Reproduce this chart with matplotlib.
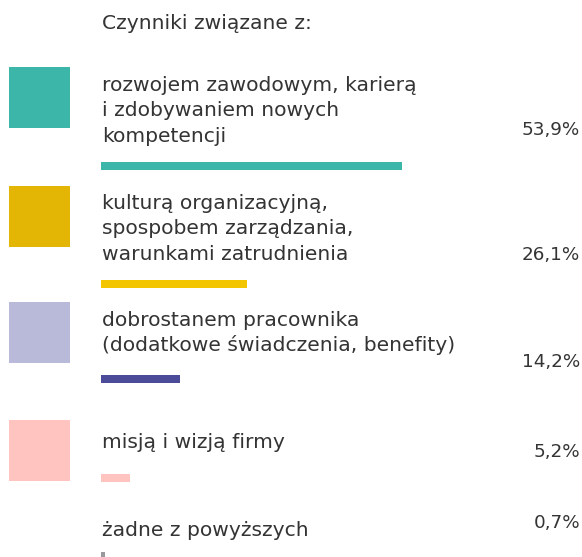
import matplotlib
matplotlib.use("Agg")
import matplotlib.pyplot as plt
import numpy as np

# data
title = "Czynniki związane z:"
labels = [
    "rozwojem zawodowym, karierą\ni zdobywaniem nowych\nkompetencji",
    "kulturą organizacyjną,\nspospobem zarządzania,\nwarunkami zatrudnienia",
    "dobrostanem pracownika\n(dodatkowe świadczenia, benefity)",
    "misją i wizją firmy",
    "żadne z powyższych",
]
values = [53.9, 26.1, 14.2, 5.2, 0.7]
value_labels = ["53,9%", "26,1%", "14,2%", "5,2%", "0,7%"]
square_colors = ["#3BB6A9", "#E3B505", "#B9B9D9", "#FFC4C0", None]
bar_colors = ["#3BB6A9", "#F2C500", "#4B4B9A", "#FFC4C0", "#9A9A9E"]

# layout (pixels, y from top)
W, H = 582, 557
TEXT_COLOR = "#343434"
FONT = ["DejaVu Sans"]
FS = 14.6
FS_VAL = 13.2
LINE = 25.3
PX_PER_PCT = 5.59
BAR_X0 = 101
TEXT_X0 = 102
label_base = [91, 209, 326, 448, 536]
value_base = [135, 260, 367, 457, 528]
square_top = [67, 186, 302, 420]
bar_top = [162, 280, 375, 474, 552]

fig = plt.figure(figsize=(W / 100, H / 100), dpi=100)
ax = fig.add_axes([0, 0, 1, 1])
ax.set_xlim(0, W)
ax.set_ylim(H, 0)
ax.axis("off")

ax.text(TEXT_X0, 29, title, fontsize=FS, family=FONT, color=TEXT_COLOR,
        va="baseline", ha="left")

for i, lab in enumerate(labels):
    for j, line in enumerate(lab.split("\n")):
        ax.text(TEXT_X0, label_base[i] + j * LINE, line, fontsize=FS,
                family=FONT, color=TEXT_COLOR, va="baseline", ha="left")
    ax.text(580, value_base[i], value_labels[i], fontsize=FS_VAL, family=FONT,
            color=TEXT_COLOR, va="baseline", ha="right")
    if square_colors[i] is not None:
        ax.add_patch(plt.Rectangle((9, square_top[i]), 61, 61,
                                   color=square_colors[i], lw=0))

ax.barh(np.array(bar_top) + 4, np.array(values) * PX_PER_PCT, left=BAR_X0,
        height=8, color=bar_colors, lw=0)

fig.savefig("out.png", dpi=100)
